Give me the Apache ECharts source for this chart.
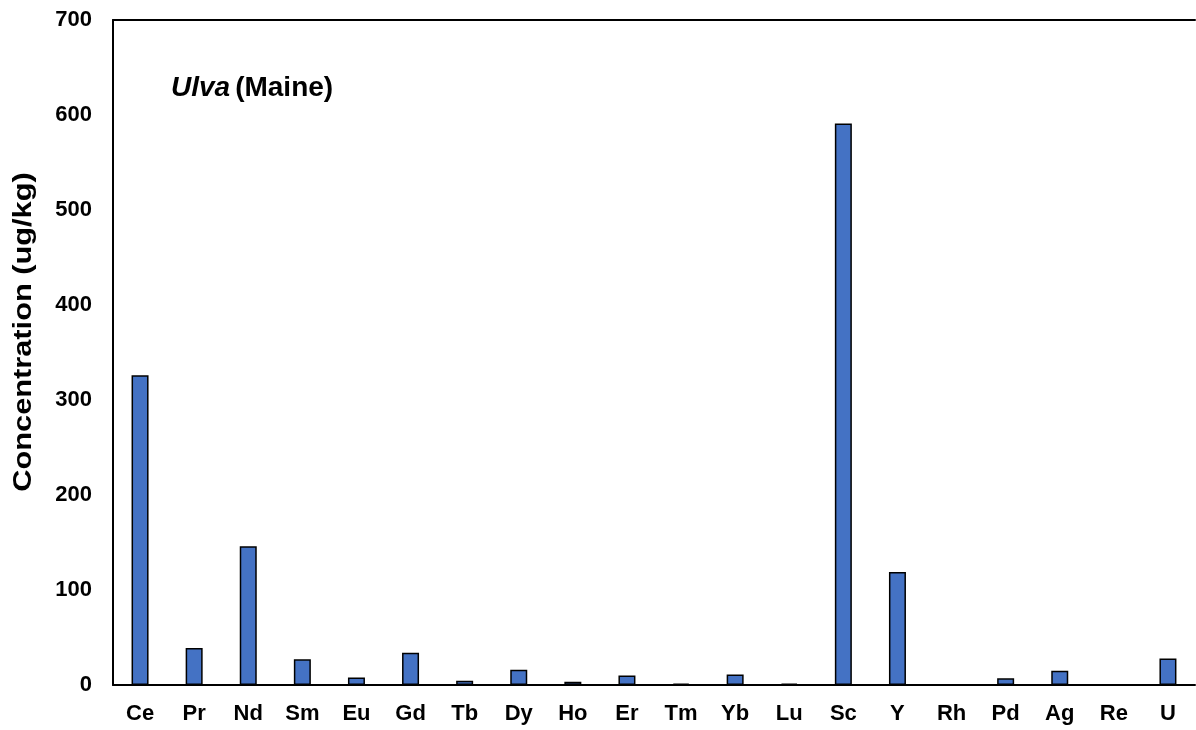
<!DOCTYPE html>
<html>
<head>
<meta charset="utf-8">
<script src="https://cdn.jsdelivr.net/npm/echarts@6/dist/echarts.min.js"></script>
<style>
html,body{margin:0;padding:0;background:#fff;}
#chart{width:1196px;height:730px;}
</style>
</head>
<body>
<div id="chart"></div>
<script>
const categories = ['Ce','Pr','Nd','Sm','Eu','Gd','Tb','Dy','Ho','Er','Tm','Yb','Lu','Sc','Y','Rh','Pd','Ag','Re','U'];
const values = [326, 39, 146, 27, 8, 34, 4.5, 16, 3.5, 10, 1.5, 11, 1.5, 591, 119, 0, 7, 15, 0, 28];
const yTicks = { min: 0, max: 700, interval: 100 };
const yName = 'Concentration (ug/kg)';
const FONT = 'Liberation Sans, Arial, sans-serif';

const chart = echarts.init(document.getElementById('chart'), null, {renderer: 'canvas'});
chart.setOption({
  animation: false,
  backgroundColor: '#fff',
  grid: { left: 113, right: 1, top: 20, bottom: 45, outerBoundsMode: 'none', containLabel: false },
  title: {
    text: '{i|Ulva} {b|(Maine)}',
    left: 166, top: 69,
    textStyle: {
      rich: {
        i: { fontFamily: FONT, fontSize: 28, fontWeight: 'bold', fontStyle: 'italic', color: '#000' },
        b: { fontFamily: FONT, fontSize: 28, fontWeight: 'bold', color: '#000' }
      }
    }
  },
  graphic: [{
    type: 'text',
    x: 24, y: 332,
    rotation: Math.PI / 2,
    scaleX: 1.23,
    style: {
      text: yName,
      fill: '#000',
      font: 'bold 25px ' + FONT,
      textAlign: 'center',
      textVerticalAlign: 'middle'
    }
  }],
  xAxis: [{
    type: 'category',
    data: categories,
    axisLine: { lineStyle: { color: '#000', width: 2 } },
    axisTick: { show: false },
    axisLabel: { color: '#000', fontFamily: FONT, fontSize: 22, fontWeight: 'bold', margin: 18 }
  }, {
    type: 'category',
    data: categories,
    position: 'top',
    axisLine: { show: true, lineStyle: { color: '#000', width: 2 } },
    axisTick: { show: false },
    axisLabel: { show: false }
  }],
  yAxis: {
    type: 'value',
    min: yTicks.min, max: yTicks.max, interval: yTicks.interval,
    axisLine: { show: true, lineStyle: { color: '#000', width: 2 } },
    axisTick: { show: false },
    splitLine: { show: false },
    axisLabel: { color: '#000', fontFamily: FONT, fontSize: 22, fontWeight: 'bold', margin: 21 }
  },
  series: [{
    type: 'bar',
    data: values,
    barWidth: 17,
    itemStyle: { color: '#4472C4', borderColor: '#000', borderWidth: 1.5 }
  }]
});
</script>
</body>
</html>
